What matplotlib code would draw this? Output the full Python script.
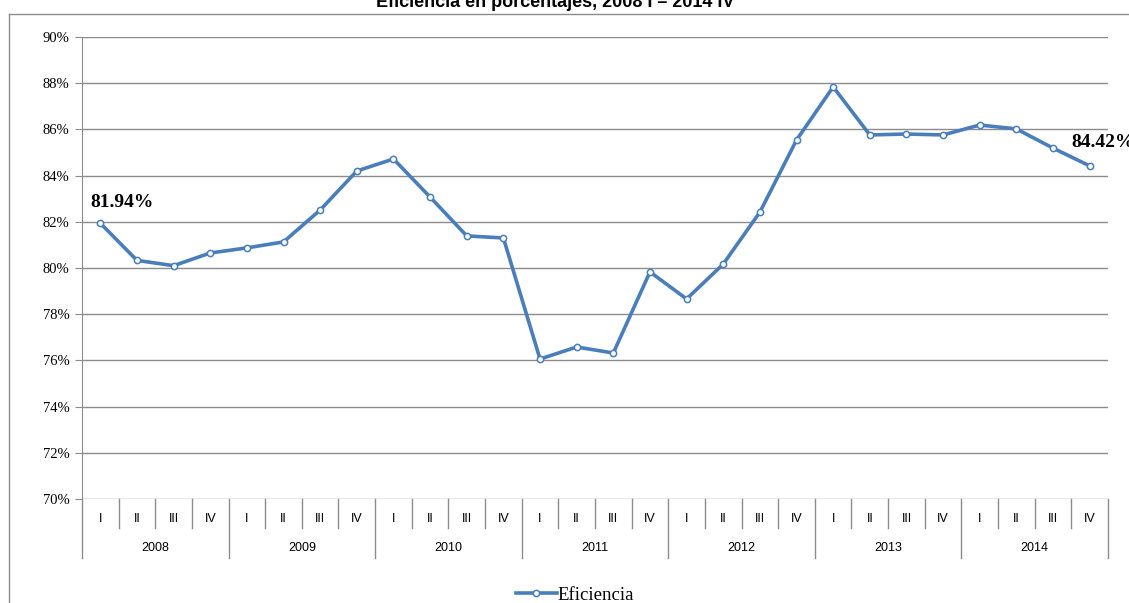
import matplotlib

matplotlib.use('Agg')

import matplotlib.pyplot as plt
from matplotlib.lines import Line2D
from matplotlib.transforms import blended_transform_factory

# ---------------------------------------------------------------------------
# data
# ---------------------------------------------------------------------------
years = ['2008', '2009', '2010', '2011', '2012', '2013', '2014']
quarters = ['I', 'II', 'III', 'IV']
eficiencia = [
    81.94, 80.33, 80.10, 80.65,
    80.87, 81.13, 82.51, 84.20,
    84.72, 83.07, 81.39, 81.30,
    76.06, 76.58, 76.32, 79.83,
    78.66, 80.17, 82.42, 85.54,
    87.84, 85.76, 85.80, 85.76,
    86.19, 86.02, 85.19, 84.42,
]
y_ticks = [70, 72, 74, 76, 78, 80, 82, 84, 86, 88, 90]

BLUE = '#4A7EBB'
GRID = '#8C8C8C'
W, H = 1129, 603

fig = plt.figure(figsize=(W / 100, H / 100), dpi=100)
ax = fig.add_axes([82 / W, 1 - 499 / H, (1108 - 82) / W, (499 - 37) / H])

x = list(range(len(eficiencia)))
ax.plot(x, eficiencia, color=BLUE, linewidth=2.6, marker='o',
        markersize=4.5, markerfacecolor='white', markeredgecolor=BLUE,
        markeredgewidth=1.1, label='Eficiencia', zorder=3)

ax.set_xlim(-0.5, len(eficiencia) - 0.5)
ax.set_ylim(70, 90)
ax.set_yticks(y_ticks)
ax.set_yticklabels([f'{v}%' for v in y_ticks], family='Liberation Serif',
                   fontsize=10.5)
ax.tick_params(axis='y', length=5, color=GRID, pad=4)
ax.set_xticks([])
for v in y_ticks:
    ax.axhline(v, color=GRID, linewidth=1.0, zorder=1)
for side in ('top', 'right', 'bottom'):
    ax.spines[side].set_visible(False)
ax.spines['left'].set_color(GRID)

# two-level category axis
trans = blended_transform_factory(ax.transData, ax.transAxes)
ax_h = 499 - 37
q_bottom = -(528 - 499) / ax_h
y_bottom = -(558 - 499) / ax_h
for k in range(len(eficiencia) + 1):
    low = y_bottom if k % 4 == 0 else q_bottom
    ax.add_line(Line2D([k - 0.5, k - 0.5], [0, low], transform=trans,
                       color=GRID, linewidth=1.0, clip_on=False))
for i, _ in enumerate(eficiencia):
    ax.text(i, -(519 - 499) / ax_h, quarters[i % 4], transform=trans,
            ha='center', va='center', fontsize=9,
            family='Liberation Sans')
for j, yr in enumerate(years):
    ax.text(j * 4 + 1.5, -(548 - 499) / ax_h, yr, transform=trans,
            ha='center', va='center', fontsize=9, family='Liberation Sans')

# data labels on first and last points
ax.annotate(f'{eficiencia[0]:.2f}%', (0, eficiencia[0]), xytext=(-7, 15),
            textcoords='offset points', ha='left', va='center',
            fontsize=14, fontweight='bold', family='Liberation Serif')
ax.annotate(f'{eficiencia[-1]:.2f}%', (x[-1], eficiencia[-1]),
            xytext=(-13, 17), textcoords='offset points', ha='left',
            va='center', fontsize=14, fontweight='bold',
            family='Liberation Serif', annotation_clip=False)

# chart-area border (left and top only visible)
fig.add_artist(Line2D([9 / W, 9 / W], [0, 1 - 14 / H], color=GRID,
                      linewidth=1.0))
fig.add_artist(Line2D([9 / W, 1], [1 - 14 / H, 1 - 14 / H], color=GRID,
                      linewidth=1.0))

fig.text(555 / W, 1 - 7 / H, 'Eficiencia en porcentajes, 2008 I – 2014 IV',
         ha='center', va='baseline', fontsize=13, fontweight='bold',
         family='Liberation Sans')

fig.legend(loc='center', bbox_to_anchor=(575 / W, 1 - 595 / H),
           frameon=False, handlelength=2.2, handletextpad=0.05,
           prop={'family': 'Liberation Serif', 'size': 13.5})

fig.savefig('out.png', dpi=100)
